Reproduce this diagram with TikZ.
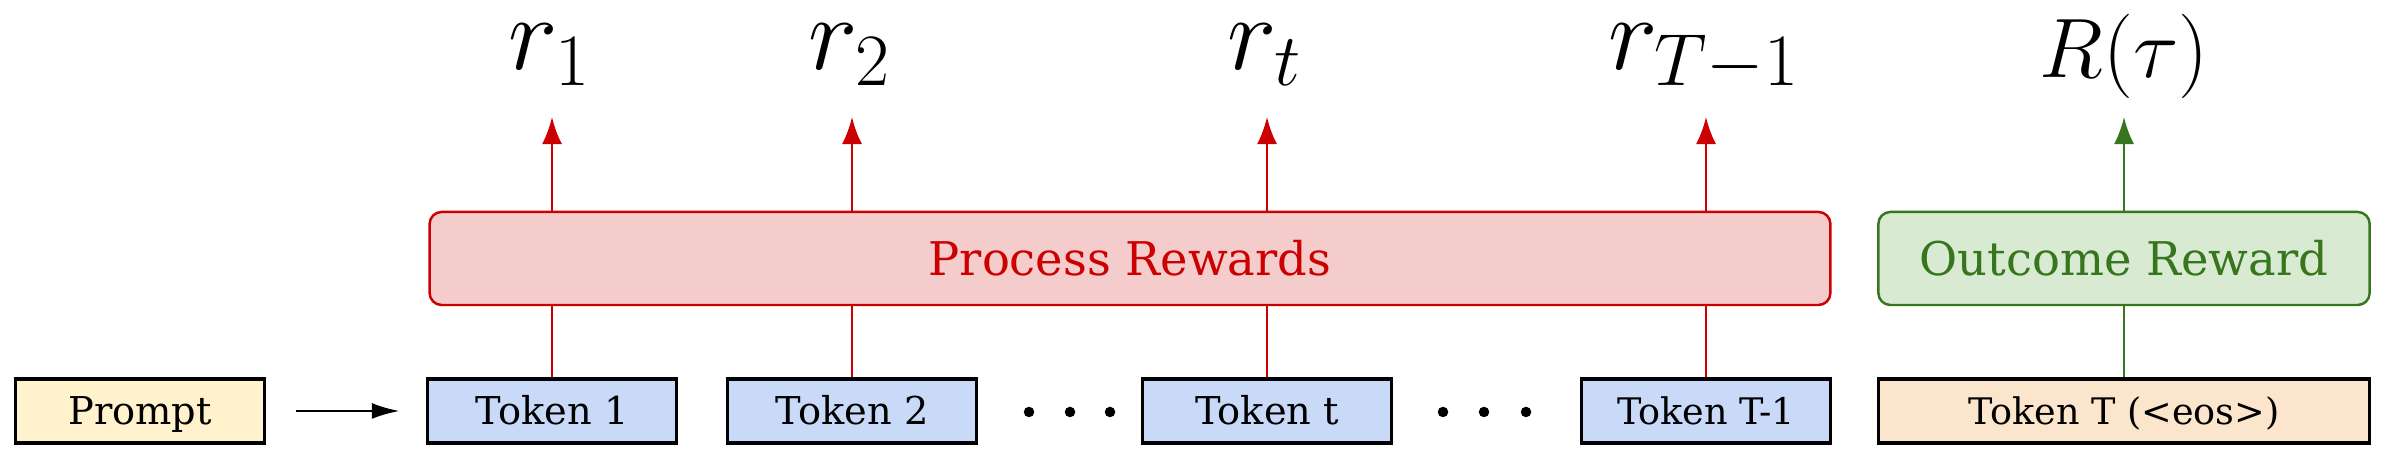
\RequirePackage{fix-cm}
\documentclass[tikz,border=0pt]{standalone}
\usepackage{fontspec}
\setmainfont{DejaVu Serif}
\usetikzlibrary{arrows.meta}
\definecolor{tokblue}{HTML}{C9DAF8}
\definecolor{promptyellow}{HTML}{FFF2CC}
\definecolor{eosorange}{HTML}{FCE5CD}
\definecolor{redline}{HTML}{CC0000}
\definecolor{redfill}{HTML}{F4CCCC}
\definecolor{greenline}{HTML}{38761D}
\definecolor{greenfill}{HTML}{D9EAD3}
\tikzset{
  tokbox/.style={draw=black, line width=0.9pt, fill=tokblue, minimum width=2.49cm,
    minimum height=0.64cm, inner sep=0pt, text height=0.275cm, text depth=0pt,
    font=\fontsize{10.9}{13}\selectfont},
  rewbox/.style={rounded corners=0.12cm, line width=0.7pt, minimum height=0.93cm,
    inner sep=0pt, text height=0.335cm, text depth=0pt, font=\fontsize{13.2}{16}\selectfont},
  lbl/.style={anchor=base, inner sep=0pt, font=\fontsize{30}{34}\selectfont},
  biglbl/.style={anchor=base, inner sep=0pt, font=\fontsize{24}{28}\selectfont},
  dotnode/.style={circle, fill=black, inner sep=0pt, minimum size=0.105cm},
  redarr/.style={draw=redline, line width=0.7pt},
  greenarr/.style={draw=greenline, line width=0.7pt},
}
\begin{document}
\begin{tikzpicture}[x=0.01cm,y=-0.01cm]
\useasboundingbox (0,0) rectangle (2386,462);
% bottom row
\node[tokbox, fill=promptyellow] (prompt) at (140,411) {Prompt};
\node[tokbox] (tok1) at (552,411) {Token 1};
\node[tokbox] (tok2) at (852,411) {Token 2};
\node[dotnode] (d1) at (1029,412) {};
\node[dotnode] (d2) at (1070,412) {};
\node[dotnode] (d3) at (1110,412) {};
\node[tokbox] (tokt) at (1267,411) {Token t};
\node[dotnode] (d4) at (1443,412) {};
\node[dotnode] (d5) at (1484,412) {};
\node[dotnode] (d6) at (1526,412) {};
\node[tokbox, font=\fontsize{10.4}{12}\selectfont] (tokTm) at (1706,411) {Token T-1};
\node[tokbox, fill=eosorange, minimum width=4.91cm, font=\fontsize{10.4}{12}\selectfont] (tokT) at (2124,411) {Token T (<eos>)};
% reward boxes
\node[rewbox, draw=redline, fill=redfill, text=redline, minimum width=14.0cm] (pr) at (1130,258.5) {Process Rewards};
\node[rewbox, draw=greenline, fill=greenfill, text=greenline, minimum width=4.91cm] (or) at (2124,258.5) {Outcome Reward};
% labels
\node[lbl] (r1) at (550,70) {$r_1$};
\node[lbl] (r2) at (850,70) {$r_2$};
\node[lbl] (rt) at (1265,70) {$r_t$};
\node[lbl] (rT) at (1704,70) {$r_{T-1}$};
\node[biglbl] (R) at (2124,78) {$R(\tau)$};
\coordinate (tipline) at (0,117);
% prompt arrow
\draw[line width=0.8pt, -{Latex[length=0.28cm,width=0.16cm]}, shorten <=0.3cm, shorten >=0.26cm] (prompt.east) -- (tok1.west);
% token to reward box
\foreach \t in {tok1,tok2,tokt,tokTm}{
  \draw[redarr] (\t.north) -- (\t.north |- pr.south);
  \draw[redarr, -{Latex[length=0.27cm,width=0.2cm]}] (\t.north |- pr.north) -- (\t.north |- tipline);
}
\draw[greenarr] (tokT.north) -- (or.south);
\draw[greenarr, -{Latex[length=0.27cm,width=0.2cm]}] (or.north) -- (or.north |- tipline);
\end{tikzpicture}
\end{document}
